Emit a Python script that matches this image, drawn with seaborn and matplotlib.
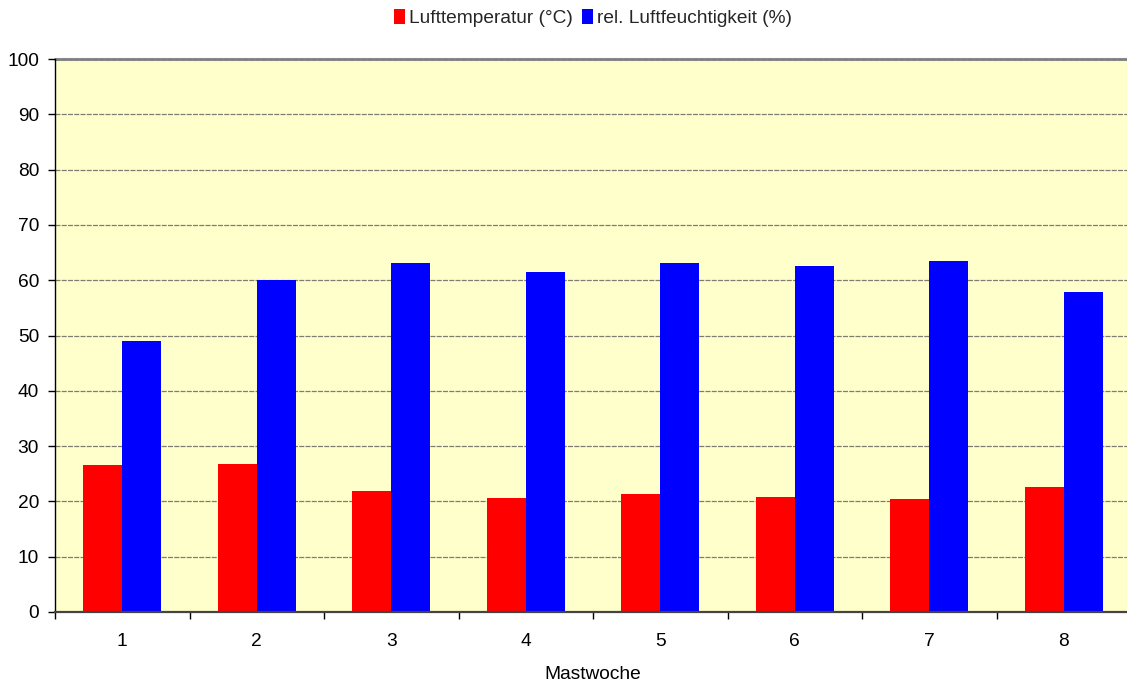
import numpy as np
import pandas as pd
import matplotlib
matplotlib.use("Agg")
import matplotlib.pyplot as plt
import seaborn as sns
from matplotlib.patches import Patch

# Stallklima je Mastwoche
wochen = ["1", "2", "3", "4", "5", "6", "7", "8"]
lufttemperatur = [26.6, 26.8, 21.9, 20.6, 21.3, 20.8, 20.4, 22.6]
luftfeuchtigkeit = [49.0, 60.0, 63.1, 61.5, 63.1, 62.6, 63.5, 57.9]
serien = ["Lufttemperatur (°C)", "rel. Luftfeuchtigkeit (%)"]
farben = ["#FF0000", "#0000FF"]
y_ticks = [0, 10, 20, 30, 40, 50, 60, 70, 80, 90, 100]

df = pd.DataFrame({
    "Mastwoche": wochen * 2,
    "Wert": lufttemperatur + luftfeuchtigkeit,
    "Serie": [serien[0]] * len(wochen) + [serien[1]] * len(wochen),
})

sns.set_theme(style="white")
plt.rcParams["font.family"] = ["Liberation Sans", "DejaVu Sans"]
fs = 13.8

fig = plt.figure(figsize=(11.27, 6.81), dpi=100)
# Zeichenfläche reicht rechts knapp über den Bildrand hinaus
ax = fig.add_axes([55 / 1127, 1 - 612 / 681, (1131 - 55) / 1127, (612 - 59) / 681])
ax.set_facecolor("#FFFFCC")

sns.barplot(data=df, x="Mastwoche", y="Wert", hue="Serie", order=wochen,
            hue_order=serien, palette=farben, width=0.58, saturation=1,
            edgecolor="none", linewidth=0, legend=False, ax=ax)

ax.set_ylim(0, 100)
ax.set_xlim(-0.5, len(wochen) - 0.5)
ax.set_yticks(y_ticks)
ax.yaxis.grid(True, color="#7d7d72", linewidth=0.9, linestyle=(0, (4, 1)))
ax.set_axisbelow(True)
ax.axhline(100, color="#8a8a8a", linewidth=2.2, zorder=0.5, clip_on=False)

# Teilstriche zwischen den Kategorien
ax.set_xticks(np.arange(-0.5, len(wochen)), minor=True)
ax.tick_params(axis="x", which="major", length=0, pad=15, labelsize=fs, colors="black")
ax.tick_params(axis="x", which="minor", length=5, width=1, color="black", direction="out", bottom=True)
ax.tick_params(axis="y", which="major", length=5, width=1, color="black", direction="out",
               left=True, labelsize=fs, pad=6.5, labelcolor="black")

for s in ["top", "right"]:
    ax.spines[s].set_visible(False)
ax.spines["left"].set_color("black")
ax.spines["left"].set_linewidth(1)
ax.spines["bottom"].set_color("#444444")
ax.spines["bottom"].set_linewidth(1.6)

ax.set_xlabel("Mastwoche", fontsize=fs, labelpad=11.5, color="black")
ax.set_ylabel("")

handles = [Patch(facecolor=c, edgecolor="none") for c in farben]
fig.legend(handles, serien, loc="center", bbox_to_anchor=(0.526, 1 - 18 / 681), ncol=2,
           frameon=False, fontsize=fs, handlelength=0.6, handleheight=0.8,
           handletextpad=0.2, columnspacing=0.45)

fig.savefig("out.png", dpi=100, facecolor="white")
